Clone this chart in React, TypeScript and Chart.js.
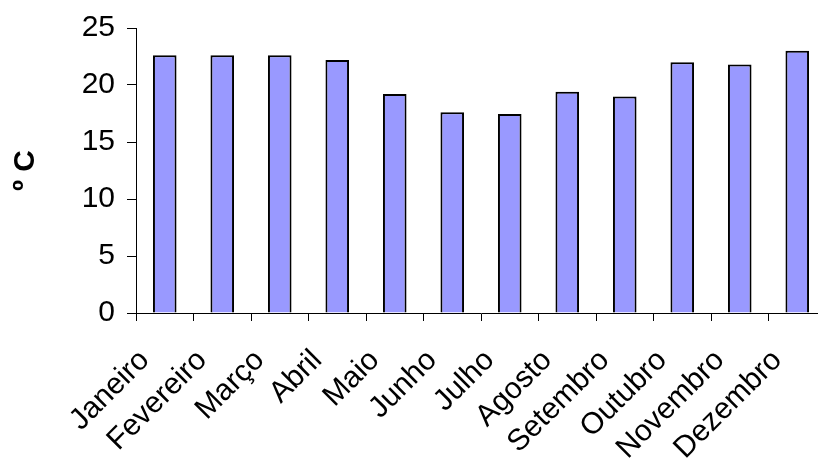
import { useEffect, useRef } from 'react';
import { Chart, registerables } from 'chart.js';

Chart.register(...registerables);

const months = ['Janeiro', 'Fevereiro', 'Março', 'Abril', 'Maio', 'Junho', 'Julho', 'Agosto', 'Setembro', 'Outubro', 'Novembro', 'Dezembro'];
const temps = [22.6, 22.6, 22.6, 22.2, 19.2, 17.6, 17.45, 19.4, 19.0, 22.0, 21.8, 23.0];
const yMin = 0;
const yMax = 25;
const yStep = 5;
const yTitle = 'º C';

export default function App() {
  const ref = useRef<HTMLCanvasElement | null>(null);
  useEffect(() => {
    if (!ref.current) return;
    const font = 'Liberation Sans, Arial, sans-serif';
    const chart = new Chart(ref.current, {
      type: 'bar',
      data: {
        labels: months,
        datasets: [{
          data: temps,
          backgroundColor: '#9999FF',
          borderColor: '#000000',
          borderWidth: 2,
          barPercentage: 0.41,
          categoryPercentage: 1,
        }],
      },
      options: {
        responsive: false,
        animation: false,
        devicePixelRatio: 1,
        layout: { padding: { top: 28, right: 14, left: 0, bottom: 0 } },
        plugins: { legend: { display: false }, tooltip: { enabled: false } },
        scales: {
          x: {
            grid: { display: true, drawOnChartArea: false, drawTicks: true, tickLength: 8, color: '#000', offset: true },
            border: { display: true, color: '#000', width: 1 },
            ticks: {
              color: '#000',
              font: { family: font, size: 30 },
              maxRotation: 45,
              minRotation: 45,
              autoSkip: false,
              padding: 22,
              labelOffset: -20,
            },
            afterFit: (s: any) => { s.height = 148; s.paddingLeft = 0; s.paddingRight = 0; },
          },
          y: {
            min: yMin,
            max: yMax,
            grid: { display: true, drawOnChartArea: false, drawTicks: true, tickLength: 9, color: '#000' },
            border: { display: true, color: '#000', width: 1 },
            ticks: {
              stepSize: yStep,
              color: '#000',
              font: { family: font, size: 30 },
              padding: 12,
            },
            title: {
              display: true,
              text: yTitle,
              color: '#000',
              font: { family: font, size: 30, weight: 'bold' },
              padding: { top: 8, bottom: 0 },
            },
            afterFit: (s: any) => { s.width = 136; s.paddingTop = 0; s.paddingBottom = 0; },
          },
        },
      },
    });
    return () => chart.destroy();
  }, []);
  return (
    <div style={{ position: 'absolute', left: 0, top: 0, width: 818, height: 461, overflow: 'hidden', background: '#fff' }}>
      <canvas ref={ref} width={840} height={461} style={{ display: 'block' }} />
    </div>
  );
}
